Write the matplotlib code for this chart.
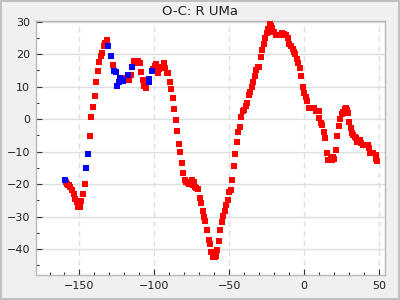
import matplotlib
matplotlib.use("Agg")
import matplotlib.pyplot as plt
from matplotlib.ticker import MultipleLocator

title = "O-C: R UMa"

red_x = [-159.3, -158.2, -157.5, -156.9, -156.3, -154.9, -153.5, -152.8, -151.7, -150.7, -149.5,
         -148.9, -147.5, -146.2,
         -142.8, -142.2, -140.8, -139.5, -138.8, -137.5, -136.8, -135.5, -134.8, -133.5, -132.8, -131.5,
         -127.5, -120.3, -119.9, -119.2, -116.8, -117.0, -115.5,
         -113.4, -112.3, -111.4, -110.8, -109.4, -108.7, -107.4, -106.7, -105.3,
         -100.7, -99.4, -98.7, -97.4, -96.7, -95.4, -94.7, -93.4, -92.7, -91.4, -90.7,
         -89.4, -88.7, -87.4, -86.7, -85.4, -84.7, -83.4, -82.7, -81.4, -80.7, -79.3, -78.7,
         -77.3, -76.7, -74.7, -74.0, -73.3, -72.7, -72.0, -70.7,
         -69.3, -68.7, -67.3, -66.7, -66.0, -64.6, -63.3, -62.6, -62.0, -60.6, -59.3, -58.7,
         -58.0, -56.6, -55.9, -54.6, -53.9, -52.6, -51.9, -50.6, -49.9, -48.6, -47.9, -46.6,
         -45.9, -44.6, -43.9, -42.6, -41.9, -40.6, -39.9, -38.6, -37.9, -36.6, -35.9, -34.6,
         -33.9, -32.6, -31.9, -30.6, -29.9, -28.5, -27.9, -26.5, -25.9, -24.5, -23.9, -22.5,
         -22.0, -21.2, -20.5, -19.8, -18.5, -17.2, -15.8, -14.5, -13.2, -11.8, -10.5, -9.8,
         -8.5, -7.2, -6.5, -5.8, -4.5, -3.8, -2.5, -1.8, -0.5, 0.2, 1.5, 2.2, 3.6, 5.1, 6.5,
         7.8, 9.2, 9.8, 10.2, 11.6, 12.2, 13.6, 14.2, 15.6, 16.3, 17.6, 18.9, 19.5, 18.2, 20.2,
         21.6, 22.3, 23.6, 24.3, 25.6, 26.3, 27.6, 28.3, 28.9, 29.6, 30.3, 31.4, 32.1, 32.8,
         33.9, 34.6, 35.3, 36.6, 37.3, 38.0, 39.3, 40.3, 41.7, 42.8, 43.7, 44.1, 45.5, 46.3,
         47.9, 48.3, 48.9]
red_y = [-19.4, -19.9, -20.2, -20.4, -21.0, -21.9, -23.2, -24.7, -25.6, -27.2, -27.2,
         -25.3, -23.1, -20.1,
         -5.3, 0.5, 3.6, 7.0, 11.3, 14.7, 17.7, 19.3, 20.2, 22.5, 23.3, 24.2,
         16.5, 12.7, 12.0, 12.6, 12.0, 13.3, 13.4,
         17.8, 17.8, 17.4, 17.8, 17.4, 14.4, 11.9, 10.2, 9.4,
         15.3, 16.4, 17.0, 14.1, 15.3, 15.6, 16.0, 17.1, 15.6, 14.3, 14.1,
         11.3, 9.1, 6.4, 3.0, -0.4, -3.8, -7.8, -10.2, -13.6, -16.7, -18.9, -19.5,
         -19.8, -20.1, -18.9, -20.4, -19.5, -21.0, -21.3, -21.6,
         -24.4, -25.9, -28.4, -30.2, -31.4, -34.3, -37.3, -38.6, -41.0, -42.5, -42.5, -42.2,
         -40.4, -37.6, -34.3, -31.8, -29.9, -28.4, -26.6, -25.0, -22.6, -21.7, -18.9, -14.3,
         -10.9, -7.2, -4.1, -2.6, 0.5, 2.4, 2.8, 4.0, 4.9, 7.3, 8.4, 9.8,
         11.3, 13.1, 15.0, 16.0, 16.0, 19.0, 21.4, 23.0, 24.8, 26.4, 27.6, 29.1,
         28.5, 27.9, 26.7, 26.7, 25.8, 25.8, 25.8, 26.4, 26.3, 25.8, 24.8, 23.0,
         22.4, 21.5, 20.5, 19.9, 18.4, 17.1, 15.6, 13.1, 9.8, 7.9, 6.9, 5.5, 3.3, 3.3, 3.3,
         2.6, 2.5, 2.5, 0.2, -1.3, -1.9, -4.1, -5.9, -10.6, -12.6, -12.6, -12.6, -11.6, -11.6, -12.4,
         -9.5, -5.3, -2.2, -0.1, 1.4, 2.2, 3.0, 3.3, 2.8, 1.8, -0.9, -2.9, -4.4, -4.9,
         -5.4, -5.9, -7.0, -7.0, -6.5, -7.3, -8.0, -8.0, -8.0, -8.0, -9.0, -10.6, -10.6, -10.6,
         -11.1, -12.4, -12.8]

blue_x = [-159.6, -145.5, -144.2, -130.8, -129.2, -126.8, -125.5, -122.8, -121.9, -123.5,
          -124.8, -121.2, -117.4, -114.8, -103.4, -103.4, -101.4]
blue_y = [-18.9, -15.2, -10.9, 22.4, 19.4, 14.8, 14.4, 12.7, 12.0, 11.3,
          10.1, 11.7, 13.7, 15.9, 12.2, 11.5, 14.8]

x_ticks = [-150, -100, -50, 0, 50]
y_ticks = [-40, -30, -20, -10, 0, 10, 20, 30]

fig = plt.figure(figsize=(4, 3), dpi=100, facecolor="#f0f0f0",
                 edgecolor="#c0c0c0", linewidth=1.5)
ax = fig.add_axes([0.089, 0.0833, 0.874, 0.847])
ax.set_facecolor("white")

ax.plot(red_x, red_y, "s", color="#ff0000", markersize=4.2, markeredgewidth=0, zorder=3)
ax.plot(blue_x, blue_y, "s", color="#0000ff", markersize=4.2, markeredgewidth=0, zorder=3)

ax.set_xlim(-179.3, 54.3)
ax.set_ylim(-48, 30.2)
ax.set_xticks(x_ticks)
ax.set_yticks(y_ticks)
ax.xaxis.set_minor_locator(MultipleLocator(10))
ax.yaxis.set_minor_locator(MultipleLocator(5))

ax.grid(True, axis="y", which="major", color="#dddddd", linewidth=1, linestyle="-")
ax.grid(True, axis="x", which="major", color="#dddddd", linewidth=1, linestyle=(0, (4, 3)))
ax.set_axisbelow(True)

ax.tick_params(which="both", direction="in", top=False, right=False, colors="#333333",
               labelsize=8, pad=4)
ax.tick_params(which="major", length=4, width=0.8)
ax.tick_params(which="minor", length=2, width=0.8)
for lab in ax.get_xticklabels() + ax.get_yticklabels():
    lab.set_color("#222222")
for s in ax.spines.values():
    s.set_color("#b8b8b8")
    s.set_linewidth(1)

fig.text(0.5, 0.963, title, ha="center", va="center", fontsize=9.5, color="#222222")

fig.savefig("out.png", dpi=100, facecolor=fig.get_facecolor(), edgecolor=fig.get_edgecolor())
